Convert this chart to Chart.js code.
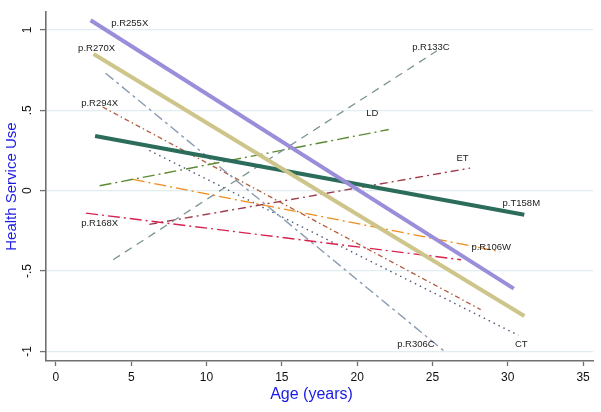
<!DOCTYPE html>
<html>
<head>
<meta charset="utf-8">
<script src="https://cdn.jsdelivr.net/npm/chart.js@4/dist/chart.umd.min.js"></script>
<style>
html,body{margin:0;padding:0;background:#fff;}
canvas{display:block;}
</style>
</head>
<body>
<canvas id="c" width="601" height="412"></canvas>
<script>
// ---- data ----
const seriesNames = ['p.R255X','p.R270X','p.T158M','p.R133C','LD','ET','p.R168X','p.R106W','p.R306C','p.R294X','CT'];
const startAge = [2.3, 2.5, 2.6, 3.8, 2.9, 6.2, 2.0, 5.1, 3.3, 3.1, 6.2];
const startUse = [1.06, 0.85, 0.34, -0.43, 0.03, -0.21, -0.14, 0.07, 0.73, 0.52, 0.25];
const endAge   = [30.4, 31.1, 31.1, 25.3, 22.1, 27.5, 26.9, 29.5, 25.8, 28.2, 30.7];
const endUse   = [-0.61, -0.78, -0.15, 0.87, 0.38, 0.14, -0.43, -0.38, -1.0, -0.74, -0.9];
// label anchor (age, use) for each series name
const labelAge = [4.9, 2.7, 30.9, 24.9, 21.0, 27.0, 2.9, 28.9, 23.9, 2.9, 30.9];
const labelUse = [1.043, 0.888, -0.078, 0.892, 0.48, 0.198, -0.205, -0.354, -0.954, 0.541, -0.954];
const xTickValues = [0, 5, 10, 15, 20, 25, 30, 35];
const xTickLabels = ['0','5','10','15','20','25','30','35'];
const yTickValues = [-1, -0.5, 0, 0.5, 1];
const yTickLabels = ['-1','-.5','0','.5','1'];

// ---- styles ----
const colors = ['#9a8edb','#cec58b','#2b6c5b','#7d9393','#5f8a34','#9e3c4c','#d6234f','#f08c1f','#8a9bb2','#b25c3e','#4c5a7a'];
const widths = [4, 4, 4, 1.3, 1.4, 1.4, 1.4, 1.4, 1.4, 1.3, 1.4];
const dashes = [[], [], [], [8,6], [12,4,2,4], [8,4,2,4], [12,4,2,4], [12,4,2,4], [10,4,3,4], [5,3,1.5,3], [1.5,4]];

const datasets = seriesNames.map((n, i) => ({
  label: n,
  data: [{x: startAge[i], y: startUse[i]}, {x: endAge[i], y: endUse[i]}],
  showLine: true,
  borderColor: colors[i],
  backgroundColor: colors[i],
  borderWidth: widths[i],
  borderDash: dashes[i],
  borderCapStyle: 'butt',
  pointRadius: 0,
  pointHoverRadius: 0,
  order: i < 3 ? 0 : 1
}));

const labelPlugin = {
  id: 'lineLabels',
  afterDatasetsDraw(chart) {
    const ctx = chart.ctx;
    const xs = chart.scales.x, ys = chart.scales.y;
    ctx.save();
    ctx.font = '9.5px "Liberation Sans", Arial, sans-serif';
    ctx.fillStyle = '#222';
    ctx.textAlign = 'center';
    ctx.textBaseline = 'middle';
    seriesNames.forEach((n, i) => {
      ctx.fillText(n, xs.getPixelForValue(labelAge[i]), ys.getPixelForValue(labelUse[i]));
    });
    // x axis title
    ctx.font = '16px "Liberation Sans", Arial, sans-serif';
    ctx.fillStyle = '#1a1ae6';
    const a = chart.chartArea;
    ctx.fillText('Age (years)', (a.left + a.right) / 2 - 8, 395);
    ctx.restore();
  }
};

new Chart(document.getElementById('c'), {
  type: 'scatter',
  data: { datasets },
  options: {
    responsive: false,
    animation: false,
    devicePixelRatio: 1,
    layout: { padding: { top: 7, right: 8, left: 0, bottom: 0 } },
    plugins: { legend: { display: false }, tooltip: { enabled: false } },
    scales: {
      x: {
        type: 'linear',
        min: -0.66,
        max: 35.66,
        afterBuildTicks: s => { s.ticks = xTickValues.map(v => ({ value: v })); },
        afterFit: s => { s.height = 51; },
        ticks: {
          callback: v => xTickLabels[xTickValues.indexOf(v)],
          font: { family: '"Liberation Sans", Arial, sans-serif', size: 12 },
          color: '#111',
          padding: 4,
          maxRotation: 0,
          minRotation: 0
        },
        grid: { drawOnChartArea: false, drawTicks: true, tickLength: 5, tickColor: '#707070', tickWidth: 1.3 },
        border: { display: true, color: '#707070', width: 1.6 }
      },
      y: {
        type: 'linear',
        min: -1.06,
        max: 1.11,
        afterBuildTicks: s => { s.ticks = yTickValues.map(v => ({ value: v })); },
        afterFit: s => { s.width = 46; },
        ticks: {
          callback: v => yTickLabels[yTickValues.indexOf(v)],
          font: { family: '"Liberation Sans", Arial, sans-serif', size: 12 },
          color: '#111',
          minRotation: 90,
          maxRotation: 90,
          crossAlign: 'center',
          padding: 5
        },
        grid: { color: '#e1edf0', lineWidth: 1.2, drawTicks: true, tickLength: 6, tickColor: '#707070', tickWidth: 1.3 },
        border: { display: true, color: '#707070', width: 1.6 },
        title: {
          display: true,
          text: 'Health Service Use',
          color: '#1a1ae6',
          font: { family: '"Liberation Sans", Arial, sans-serif', size: 15 },
          padding: { top: 3, bottom: 0 }
        }
      }
    }
  },
  plugins: [labelPlugin]
});
</script>
</body>
</html>
